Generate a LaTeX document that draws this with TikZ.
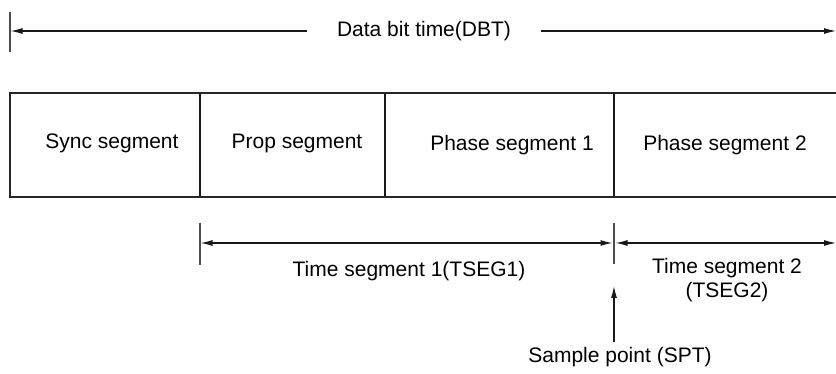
\documentclass[tikz,border=0pt]{standalone}
\usepackage{fontspec}
\setmainfont{Liberation Sans}
\usetikzlibrary{arrows.meta}
\begin{document}
\begin{tikzpicture}[x=1pt,y=-1pt,
  lbl/.style={font=\fontsize{21}{24.5}\selectfont, inner sep=0pt, align=center},
  thin/.style={line width=1.1pt, black!90},
  tick/.style={line width=1.3pt, black!70},
  frame/.style={line width=2.8pt, black!85},
  arr/.style={thin, -{Latex[length=12pt,width=6pt]}},
  darr/.style={thin, {Latex[length=12pt,width=6pt]}-{Latex[length=12pt,width=6pt]}}]
\useasboundingbox (0,0) rectangle (836,374);
% top dimension
\coordinate (t1) at (10,12); \coordinate (t2) at (10,52);
\draw[tick] (t1) -- (t2);
\node[lbl] (dbt) at (424,31) {Data bit time(DBT)};
\coordinate (dl) at (307,31); \coordinate (dle) at (10.5,31);
\coordinate (dr) at (541,31); \coordinate (dre) at (836,31);
\draw[arr] (dl) -- (dle);
\draw[arr] (dr) -- (dre);
% box
\coordinate (b1) at (10,93); \coordinate (b2) at (845,197);
\coordinate (v1t) at (200,93); \coordinate (v1b) at (200,197);
\coordinate (v2t) at (385,93); \coordinate (v2b) at (385,197);
\coordinate (v3t) at (614,93); \coordinate (v3b) at (614,197);
\draw[thin] (v1t) -- (v1b);
\draw[thin] (v2t) -- (v2b);
\draw[thin] (v3t) -- (v3b);
\draw[frame] (b1) rectangle (b2);
\node[lbl] (sync) at (112,143) {Sync segment};
\node[lbl] (prop) at (297,143) {Prop segment};
\node[lbl] (ph1) at (512,145) {Phase segment 1};
\node[lbl] (ph2) at (725,145) {Phase segment 2};
% lower dimension
\coordinate (k1t) at (200,223); \coordinate (k1b) at (200,265);
\coordinate (k2t) at (614,223); \coordinate (k2b) at (614,264);
\draw[tick] (k1t) -- (k1b);
\draw[tick] (k2t) -- (k2b);
\coordinate (s1a) at (200.5,243); \coordinate (s1b) at (612.5,243);
\coordinate (s2a) at (615.5,243); \coordinate (s2b) at (836,243);
\draw[darr] (s1a) -- (s1b);
\draw[darr] (s2a) -- (s2b);
\node[lbl] (tseg1) at (409,271) {Time segment 1(TSEG1)};
\node[lbl] (tseg2) at (727,280) {Time segment 2\\(TSEG2)};
\node[lbl] (spt) at (620,357) {Sample point (SPT)};
\coordinate (sp0) at (614,342); \coordinate (sp1) at (614,286);
\draw[arr] (sp0) -- (sp1);
\end{tikzpicture}
\end{document}
